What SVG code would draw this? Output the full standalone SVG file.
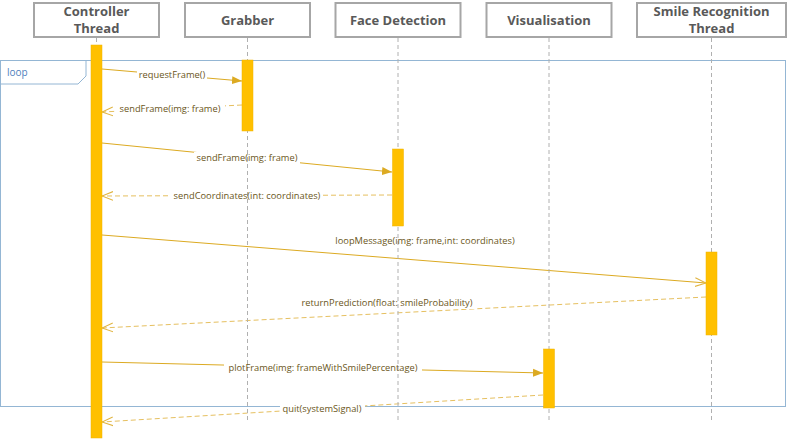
<svg xmlns="http://www.w3.org/2000/svg" width="790" height="439" viewBox="0 0 790 439">
<style>
.hbox{fill:#fff;stroke:#a6a6a6;stroke-width:2}
.htxt{font-family:"Open Sans","Liberation Sans",sans-serif;font-weight:bold;font-size:13px;fill:#595959;text-anchor:middle}
.life{stroke:#b0b0b0;stroke-width:1;stroke-dasharray:4,3;fill:none}
.act{fill:#ffc000;stroke:#f0b400;stroke-width:0.5}
.msg{stroke:#dcaa22;stroke-width:1;fill:none}
.ret{stroke:#e6c060;stroke-width:1;stroke-dasharray:5,3;fill:none}
.lbl{font-family:"Open Sans","Liberation Sans",sans-serif;font-size:9.3px;fill:#6a561a;text-anchor:middle}
.lbg{fill:#fff}
.frame{fill:none;stroke:#94b6d4;stroke-width:1}
.ftxt{font-family:"Open Sans","Liberation Sans",sans-serif;font-size:10px;fill:#4f81bd}
</style>
<defs>
<marker id="fill" viewBox="0 0 10 10" refX="10" refY="5" markerWidth="10" markerHeight="10" markerUnits="userSpaceOnUse" orient="auto">
<path d="M0,1 L10,5 L0,9 z" fill="#dcaa22"/>
</marker>
<marker id="open" viewBox="0 0 10 10" refX="10" refY="5" markerWidth="11" markerHeight="11" markerUnits="userSpaceOnUse" orient="auto">
<path d="M0,1 L10,5 L0,9" fill="none" stroke="#e0b440" stroke-width="1"/>
</marker>
</defs>
<rect width="790" height="439" fill="#fff"/>
<g id="loop-frame">
<rect class="frame" x="0.5" y="60.5" width="785" height="346"/>
<path class="frame" d="M0.5,84 H78 L86,76 V60.5"/>
<text class="ftxt" x="7" y="76">loop</text>
</g>
<g id="connectors">
<line class="msg" x1="102" y1="69" x2="242" y2="81" marker-end="url(#fill)"/>
<line class="ret" x1="242" y1="105" x2="102" y2="112" marker-end="url(#open)"/>
<line class="msg" x1="102" y1="143" x2="392" y2="172" marker-end="url(#fill)"/>
<line class="ret" x1="392" y1="195" x2="102" y2="196" marker-end="url(#open)"/>
<line class="msg" x1="102" y1="235" x2="706" y2="283" marker-end="url(#open)"/>
<line class="ret" x1="706" y1="297" x2="102" y2="328" marker-end="url(#open)"/>
<line class="msg" x1="102" y1="362" x2="543" y2="373" marker-end="url(#fill)"/>
<line class="ret" x1="543" y1="395" x2="102" y2="422" marker-end="url(#open)"/>
<g id="label-bgs">
<rect class="lbg" x="137" y="69" width="70" height="12"/>
<rect class="lbg" x="115" y="103" width="110" height="12"/>
<rect class="lbg" x="194" y="152" width="106" height="12"/>
<rect class="lbg" x="171" y="190" width="152" height="12"/>
<rect class="lbg" x="298" y="297" width="178" height="12"/>
<rect class="lbg" x="224" y="362" width="198" height="12"/>
<rect class="lbg" x="280" y="403" width="85" height="12"/>
</g>
</g>
<g id="lifelines">
<line class="life" x1="96.5" y1="38" x2="96.5" y2="45"/>
<line class="life" x1="247.5" y1="38" x2="247.5" y2="422"/>
<line class="life" x1="398" y1="38" x2="398" y2="422"/>
<line class="life" x1="549" y1="38" x2="549" y2="422"/>
<line class="life" x1="711.5" y1="38" x2="711.5" y2="422"/>
</g>
<g id="controller">
<rect class="hbox" x="34" y="3" width="125" height="34"/>
<text class="htxt" x="96.5" y="16">Controller</text>
<text class="htxt" x="96.5" y="33">Thread</text>
<rect class="act" x="91" y="45" width="11" height="393"/>
</g>
<g id="grabber">
<rect class="hbox" x="185" y="3" width="125" height="34"/>
<text class="htxt" x="247.5" y="25">Grabber</text>
<rect class="act" x="242" y="60" width="11" height="71"/>
</g>
<g id="face-detection">
<rect class="hbox" x="335.5" y="3" width="125" height="34"/>
<text class="htxt" x="398" y="25">Face Detection</text>
<rect class="act" x="392.5" y="149" width="11" height="77"/>
</g>
<g id="visualisation">
<rect class="hbox" x="486.5" y="3" width="125" height="34"/>
<text class="htxt" x="549" y="25">Visualisation</text>
<rect class="act" x="543.5" y="349" width="11" height="59"/>
</g>
<g id="smile-recognition">
<rect class="hbox" x="637" y="3" width="149" height="34"/>
<text class="htxt" x="711.5" y="16">Smile Recognition</text>
<text class="htxt" x="711.5" y="33">Thread</text>
<rect class="act" x="706" y="252" width="11" height="83"/>
</g>
<g id="labels">
<text class="lbl" x="172" y="78">requestFrame()</text>
<text class="lbl" x="170" y="112">sendFrame(img: frame)</text>
<text class="lbl" x="247" y="161">sendFrame(img: frame)</text>
<text class="lbl" x="247" y="199">sendCoordinates(int: coordinates)</text>
<text class="lbl" x="425" y="244">loopMessage(img: frame,int: coordinates)</text>
<text class="lbl" x="387" y="306">returnPrediction(float: smileProbability)</text>
<text class="lbl" x="323" y="371">plotFrame(img: frameWithSmilePercentage)</text>
<text class="lbl" x="322" y="412">quit(systemSignal)</text>
</g>
</svg>
